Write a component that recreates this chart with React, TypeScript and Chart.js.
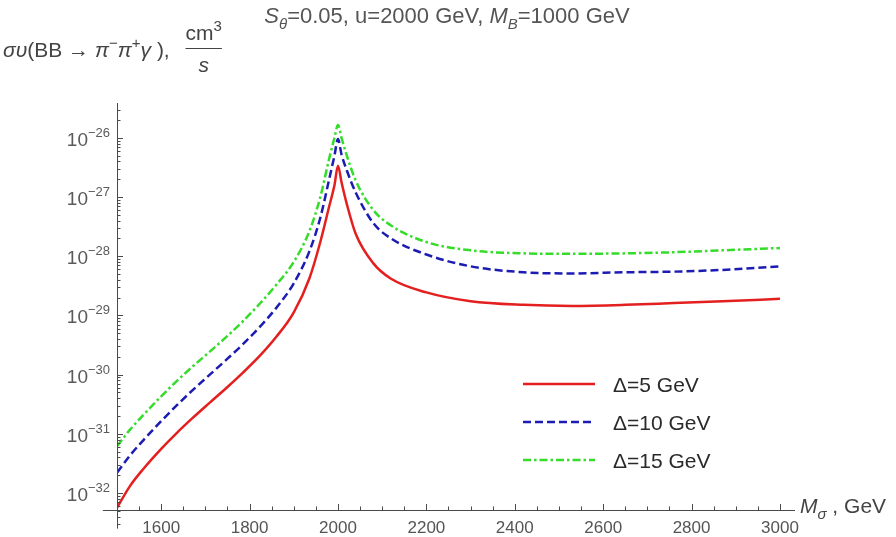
import React, { useEffect, useRef } from "react";
import { Chart, registerables } from "chart.js";

Chart.register(...registerables);

// M_sigma values (GeV) where the curves were read
const massGeV = [
  1500, 1530, 1560, 1600, 1635, 1670, 1710, 1750, 1785, 1825, 1860, 1900, 1935, 1960, 1980,
  1992, 2000, 2008, 2020, 2040, 2080, 2120, 2200, 2300, 2420, 2530, 2650, 2760, 2870, 3000,
];

// sigma*v (cm^3/s), Delta = 5 GeV
const sigmaDelta5 = [
  5.62e-33, 1.33e-32, 2.57e-32, 5.57e-32, 1.03e-31, 1.82e-31, 3.37e-31, 6.19e-31, 1.08e-30,
  2.15e-30, 4.31e-30, 1.13e-29, 4.17e-29, 1.74e-28, 6.92e-28, 1.58e-27, 3.39e-27, 1.78e-27,
  7.59e-28, 2.4e-28, 7.59e-29, 4.17e-29, 2.45e-29, 1.74e-29, 1.51e-29, 1.45e-29, 1.51e-29,
  1.62e-29, 1.74e-29, 1.91e-29,
];

// Delta = 10 GeV
const sigmaDelta10 = [
  2.19e-32, 4.37e-32, 7.85e-32, 1.64e-31, 3.02e-31, 5.37e-31, 1.0e-30, 1.86e-30, 3.27e-30,
  6.65e-30, 1.33e-29, 3.5e-29, 1.2e-28, 4.47e-28, 2.0e-27, 5.01e-27, 9.55e-27, 5.25e-27,
  2.82e-27, 1.2e-27, 3.63e-28, 2.0e-28, 1.07e-28, 6.76e-29, 5.37e-29, 5.13e-29, 5.37e-29,
  5.5e-29, 5.89e-29, 6.76e-29,
];

// Delta = 15 GeV
const sigmaDelta15 = [
  6.17e-32, 1.19e-31, 2.09e-31, 4.3e-31, 7.76e-31, 1.35e-30, 2.45e-30, 4.51e-30, 7.98e-30,
  1.64e-29, 3.27e-29, 8.07e-29, 2.63e-28, 1.0e-27, 4.47e-27, 1.0e-26, 1.66e-26, 1.0e-26,
  5.01e-27, 1.91e-27, 6.03e-28, 3.31e-28, 1.74e-28, 1.26e-28, 1.12e-28, 1.1e-28, 1.12e-28,
  1.17e-28, 1.26e-28, 1.38e-28,
];

const seriesLabels = ["Δ=5 GeV", "Δ=10 GeV", "Δ=15 GeV"];
const seriesColors = ["#e41f1f", "#1c1cb4", "#35dc2a"];
const seriesDashes: number[][] = [[], [8, 4], [8, 3, 2.5, 3]];

const xTickLabels = [1600, 1800, 2000, 2200, 2400, 2600, 2800, 3000];
const yDecadeExponents = [-32, -31, -30, -29, -28, -27, -26];

const X_MIN = 1500;
const X_MAX = 3034;
const Y_MIN = 5.16e-33;
const Y_MAX = 3.89e-26;

const FONT = '"Liberation Sans", Arial, sans-serif';

type Run = { t: string; it?: boolean; sub?: boolean; sup?: boolean };

function runFont(r: Run, size: number) {
  const s = r.sub || r.sup ? Math.round(size * 0.7) : size;
  return `${r.it ? "italic " : ""}${s}px ${FONT}`;
}

function drawRuns(
  ctx: CanvasRenderingContext2D,
  runs: Run[],
  x: number,
  y: number,
  size: number,
  color: string,
  align: "left" | "center" | "right" = "left"
) {
  let total = 0;
  for (const r of runs) {
    ctx.font = runFont(r, size);
    total += ctx.measureText(r.t).width;
  }
  let cx = align === "center" ? x - total / 2 : align === "right" ? x - total : x;
  ctx.fillStyle = color;
  ctx.textAlign = "left";
  ctx.textBaseline = "alphabetic";
  for (const r of runs) {
    ctx.font = runFont(r, size);
    const dy = r.sub ? size * 0.28 : r.sup ? -size * 0.42 : 0;
    ctx.fillText(r.t, cx, y + dy);
    cx += ctx.measureText(r.t).width;
  }
  return total;
}

const decorPlugin = {
  id: "mathematicaDecor",
  afterDraw(chart: any) {
    const ctx: CanvasRenderingContext2D = chart.ctx;
    const xs = chart.scales.x;
    const ys = chart.scales.y;
    const axisColor = "#4a4a4a";
    const x0 = xs.getPixelForValue(X_MIN);
    const yBottom = ys.getPixelForValue(Y_MIN);
    ctx.save();
    ctx.strokeStyle = axisColor;
    ctx.lineWidth = 1;
    ctx.setLineDash([]);

    // axis lines
    const yAxisLow = ys.getPixelForValue(2.5e-33);
    const yAxisTop = ys.getPixelForValue(Y_MAX);
    ctx.beginPath();
    ctx.moveTo(Math.round(x0) + 0.5, yAxisTop);
    ctx.lineTo(Math.round(x0) + 0.5, yAxisLow);
    ctx.moveTo(xs.getPixelForValue(1468), Math.round(yBottom) + 0.5);
    ctx.lineTo(xs.getPixelForValue(X_MAX), Math.round(yBottom) + 0.5);
    ctx.stroke();

    // x ticks every 50
    ctx.beginPath();
    for (let v = 1550; v <= 3000; v += 50) {
      const px = Math.round(xs.getPixelForValue(v)) + 0.5;
      const len = v % 200 === 0 ? 6 : 3.5;
      ctx.moveTo(px, yBottom);
      ctx.lineTo(px, yBottom - len);
    }
    // y ticks at k*10^n
    for (let n = -33; n <= -26; n++) {
      for (let k = 1; k <= 9; k++) {
        const v = k * Math.pow(10, n);
        if (v < 2.5e-33 || v > Y_MAX) continue;
        const py = Math.round(ys.getPixelForValue(v)) + 0.5;
        const len = k === 1 ? 6 : 3.5;
        ctx.moveTo(x0, py);
        ctx.lineTo(x0 + len, py);
      }
    }
    ctx.stroke();

    // y tick labels 10^n
    for (const e of yDecadeExponents) {
      const py = ys.getPixelForValue(Math.pow(10, e));
      ctx.font = `13px ${FONT}`;
      const expText = "\u2212" + String(-e);
      const we = ctx.measureText(expText).width;
      ctx.font = `19px ${FONT}`;
      const wb = ctx.measureText("10").width;
      const right = x0 - 7;
      ctx.fillStyle = "#5a5a5a";
      ctx.textAlign = "left";
      ctx.textBaseline = "alphabetic";
      ctx.font = `19px ${FONT}`;
      ctx.fillText("10", right - we - wb, py + 8);
      ctx.font = `13px ${FONT}`;
      ctx.fillText(expText, right - we, py - 1);
    }

    // title
    drawRuns(
      ctx,
      [
        { t: "S", it: true },
        { t: "θ", it: true, sub: true },
        { t: "=0.05, u=2000 GeV, " },
        { t: "M", it: true },
        { t: "B", it: true, sub: true },
        { t: "=1000 GeV" },
      ],
      447,
      23,
      22,
      "#555555",
      "center"
    );

    // y-axis label
    const yl = drawRuns(
      ctx,
      [
        { t: "συ", it: true },
        { t: "(BB → " },
        { t: "π", it: true },
        { t: "\u2212", sup: true },
        { t: "π", it: true },
        { t: "+", sup: true },
        { t: "γ", it: true },
        { t: " ), " },
      ],
      3,
      57,
      21,
      "#444444",
      "left"
    );
    const fracX = 3 + yl + 10;
    ctx.font = `21px ${FONT}`;
    const cmW = ctx.measureText("cm").width;
    ctx.font = `15px ${FONT}`;
    const threeW = ctx.measureText("3").width;
    const fracW = cmW + threeW;
    drawRuns(ctx, [{ t: "cm" }, { t: "3", sup: true }], fracX, 40, 21, "#444444", "left");
    ctx.strokeStyle = "#444444";
    ctx.beginPath();
    ctx.moveTo(fracX, 48.5);
    ctx.lineTo(fracX + fracW, 48.5);
    ctx.stroke();
    drawRuns(ctx, [{ t: "s", it: true }], fracX + fracW / 2, 72, 21, "#444444", "center");

    // x-axis label
    drawRuns(
      ctx,
      [{ t: "M", it: true }, { t: "σ", it: true, sub: true }, { t: " , GeV" }],
      800,
      513,
      21,
      "#444444",
      "left"
    );

    // legend
    const legendY = [384, 422, 460];
    chart.data.datasets.forEach((ds: any, i: number) => {
      const y = legendY[i];
      ctx.strokeStyle = ds.borderColor;
      ctx.lineWidth = ds.borderWidth;
      ctx.setLineDash(ds.borderDash || []);
      ctx.beginPath();
      ctx.moveTo(523, y);
      ctx.lineTo(595, y);
      ctx.stroke();
      ctx.setLineDash([]);
      drawRuns(ctx, [{ t: ds.label }], 613, y + 7.5, 21, "#2a2a2a", "left");
    });

    ctx.restore();
  },
};

export default function App() {
  const canvasRef = useRef<HTMLCanvasElement | null>(null);

  useEffect(() => {
    if (!canvasRef.current) return;
    const seriesValues = [sigmaDelta5, sigmaDelta10, sigmaDelta15];
    const chart = new Chart(canvasRef.current, {
      type: "line",
      data: {
        datasets: seriesValues.map((vals, i) => ({
          label: seriesLabels[i],
          data: massGeV.map((m, j) => ({ x: m, y: vals[j] })),
          borderColor: seriesColors[i],
          borderWidth: 2.5,
          borderDash: seriesDashes[i],
          pointRadius: 0,
          fill: false,
          cubicInterpolationMode: "monotone" as const,
        })),
      },
      options: {
        animation: false,
        responsive: false,
        maintainAspectRatio: false,
        layout: { padding: { left: 0, top: 103, right: 101, bottom: 0 } },
        plugins: {
          legend: { display: false },
          tooltip: { enabled: false },
          title: { display: false },
        },
        scales: {
          x: {
            type: "linear",
            min: X_MIN,
            max: X_MAX,
            bounds: "data",
            grid: { display: false, drawTicks: false },
            border: { display: false },
            afterBuildTicks: (s: any) => {
              s.ticks = xTickLabels.map((v) => ({ value: v }));
            },
            afterFit: (s: any) => {
              s.height = 27;
            },
            ticks: {
              autoSkip: false,
              maxRotation: 0,
              padding: 8,
              color: "#555555",
              font: { size: 17, family: FONT },
              callback: (v: any) => String(v),
            },
          },
          y: {
            type: "logarithmic",
            min: Y_MIN,
            max: Y_MAX,
            bounds: "data",
            grid: { display: false, drawTicks: false },
            border: { display: false },
            ticks: { display: false },
            afterFit: (s: any) => {
              s.width = 117;
            },
          },
        },
      } as any,
      plugins: [decorPlugin],
    });
    return () => chart.destroy();
  }, []);

  return (
    <div style={{ position: "absolute", left: 0, top: 0, width: 896, height: 537, background: "#fff" }}>
      <canvas ref={canvasRef} width={896} height={537} style={{ display: "block" }} />
    </div>
  );
}
